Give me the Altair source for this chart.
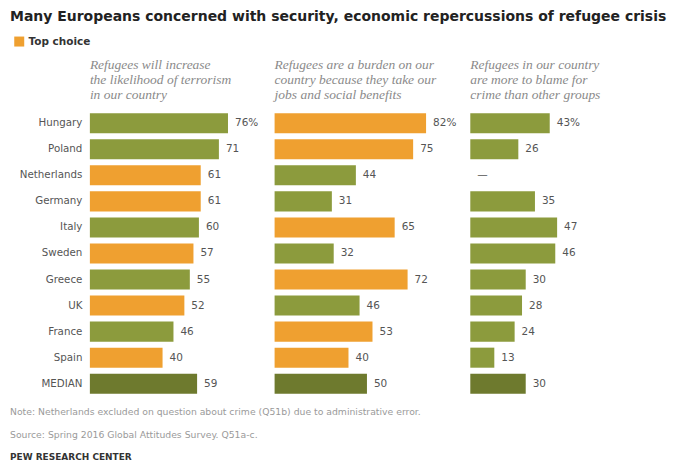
import altair as alt
import pandas as pd

countries = ["Hungary", "Poland", "Netherlands", "Germany", "Italy", "Sweden",
             "Greece", "UK", "France", "Spain", "MEDIAN"]
terrorism = [76, 71, 61, 61, 60, 57, 55, 52, 46, 40, 59]
burden = [82, 75, 44, 31, 65, 32, 72, 46, 53, 40, 50]
crime = [43, 26, None, 35, 47, 46, 30, 28, 24, 13, 30]

headers = {
    "terrorism": ["Refugees will increase", "the likelihood of terrorism", "in our country"],
    "burden": ["Refugees are a burden on our", "country because they take our", "jobs and social benefits"],
    "crime": ["Refugees in our country", "are more to blame for", "crime than other groups"],
}
title_text = "Many Europeans concerned with security, economic repercussions of refugee crisis"
note_text = "Note: Netherlands excluded on question about crime (Q51b) due to administrative error."
source_text = "Source: Spring 2016 Global Attitudes Survey. Q51a-c."
credit_text = "PEW RESEARCH CENTER"

ORANGE = "#EFA030"
GREEN = "#8C9B3D"
DARK = "#6E7A2E"

series = {"terrorism": terrorism, "burden": burden, "crime": crime}
rows = []
for i, c in enumerate(countries):
    vals = [s[i] for s in series.values() if s[i] is not None]
    top = max(vals)
    for name, s in series.items():
        v = s[i]
        if c == "MEDIAN":
            cat = "Median"
        elif v is not None and v == top:
            cat = "Top choice"
        else:
            cat = "Other"
        if v is None:
            label = "\u2014"
        else:
            label = f"{v}%" if i == 0 else str(v)
        rows.append({"panel": name, "country": c, "value": v,
                     "lx": v if v is not None else 0, "label": label, "cat": cat})
df = pd.DataFrame(rows)

FONT = "DejaVu Sans"
H = 287


def panel(name, width, dmax, first):
    d = df[df.panel == name]
    base = alt.Chart(d)
    yscale = alt.Scale(paddingInner=0.23, paddingOuter=0.115)
    if first:
        yaxis = alt.Axis(domain=False, ticks=False, labelPadding=8, labelFont=FONT,
                         labelFontSize=10.3, labelColor="#555555", title=None)
    else:
        yaxis = None
    y = alt.Y("country:N", sort=countries, scale=yscale, axis=yaxis, title=None)
    xs = alt.Scale(domain=[0, dmax], nice=False, zero=True)
    bars = base.mark_bar().encode(
        y=y,
        x=alt.X("value:Q", scale=xs, axis=None),
        color=alt.Color("cat:N",
                        scale=alt.Scale(domain=["Top choice", "Other", "Median"],
                                        range=[ORANGE, GREEN, DARK]),
                        legend=alt.Legend(values=["Top choice"], title=None, orient="none",
                                          legendX=-76, legendY=-74, symbolType="square",
                                          symbolSize=100, symbolStrokeWidth=0,
                                          symbolOpacity=1,
                                          labelFont=FONT, labelFontSize=10.5,
                                          labelFontWeight="bold", labelColor="#333333")),
    )
    labels = base.mark_text(align="left", dx=7, font=FONT, fontSize=10.5,
                            color="#555555").encode(
        y=y,
        x=alt.X("lx:Q", scale=xs, axis=None),
        text="label:N",
    )
    layers = [bars, labels]
    if first:
        for txt, yy, bold, col in [(note_text, 302, False, "#9a9a9a"),
                                   (source_text, 325, False, "#9a9a9a"),
                                   (credit_text, 347, True, "#333333")]:
            layers.append(
                alt.Chart(pd.DataFrame({"t": [txt]})).mark_text(
                    align="left", baseline="middle", font=FONT,
                    fontSize=9 if bold else 9.3,
                    fontWeight="bold" if bold else "normal", color=col,
                ).encode(x=alt.value(-80), y=alt.value(yy), text="t:N")
            )
    return alt.layer(*layers).properties(
        width=width, height=H,
        title=alt.TitleParams(headers[name], anchor="start", frame="group",
                              font="Liberation Serif", fontStyle="italic",
                              fontWeight="normal", fontSize=13.5, color="#8a8a8a",
                              lineHeight=15, offset=9),
    )


chart = alt.hconcat(
    panel("terrorism", 180, 180 / 1.82, True),
    panel("burden", 191, 191 / 1.85, False),
    panel("crime", 186, 186 / 1.85, False),
    spacing=5,
    bounds="flush",
).properties(
    title=alt.TitleParams(title_text, anchor="start", font=FONT, fontSize=14,
                          fontWeight="bold", color="#222222", offset=12),
    padding={"left": 2, "top": 2, "right": 2, "bottom": 2},
    background="white",
).configure_view(stroke=None)

chart.save("out.html", embed_options={"renderer": "svg", "actions": False})
